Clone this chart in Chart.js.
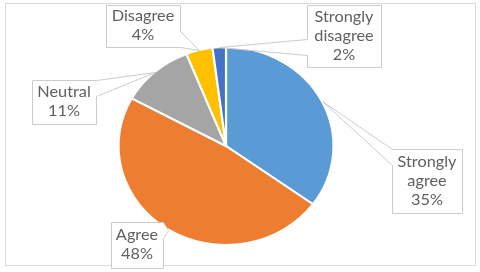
<!DOCTYPE html>
<html>
<head>
<meta charset="utf-8">
<script src="https://cdn.jsdelivr.net/npm/chart.js@4"></script>
<style>
  html, body { margin: 0; padding: 0; background: #fff; }
  #wrap { width: 480px; height: 272px; }
</style>
</head>
<body>
<div id="wrap"><canvas id="myChart" width="480" height="272"></canvas></div>
<script>
const categories = ['Strongly agree', 'Agree', 'Neutral', 'Disagree', 'Strongly disagree'];
const percents = [35, 48, 11, 4, 2];
const sliceColors = ['#5B9BD5', '#ED7D31', '#A5A5A5', '#FFC000', '#4472C4'];

// callout boxes [left, top, width, height], same order as categories
const calloutBoxes = [
    [392, 149, 70, 64],
    [111, 222, 52, 46],
    [32, 80, 64, 44],
    [106, 5, 74, 42],
    [307, 5, 74, 62]
];

const stretchX = 1.086; // the picture is a bit wider than tall, pie and text alike
const textColor = '#606060';
const lineH = 19;

const ellipsePie = {
    id: 'ellipsePie',
    beforeDraw(chart) {
        const ctx = chart.ctx;
        ctx.save();
        ctx.fillStyle = '#fff';
        ctx.fillRect(0, 0, chart.width, chart.height);
        ctx.strokeStyle = '#D9D9D9';
        ctx.lineWidth = 1;
        ctx.strokeRect(5.5, 3.5, 470, 262);
        ctx.restore();
    },
    beforeDatasetsDraw(chart) {
        const arc = chart.getDatasetMeta(0).data[0];
        const ctx = chart.ctx;
        ctx.save();
        ctx.translate(arc.x, arc.y);
        ctx.scale(stretchX, 1);
        ctx.translate(-arc.x, -arc.y);
    },
    afterDatasetsDraw(chart) {
        chart.ctx.restore();
    }
};

const callouts = {
    id: 'callouts',
    afterDraw(chart) {
        const ctx = chart.ctx;
        const arcs = chart.getDatasetMeta(0).data;
        ctx.save();
        ctx.font = '15px Lato';
        ctx.textAlign = 'center';
        ctx.textBaseline = 'middle';
        arcs.forEach((arc, i) => {
            const p = arc.getProps(['x', 'y', 'startAngle', 'endAngle', 'outerRadius'], true);
            const mid = (p.startAngle + p.endAngle) / 2;
            const tip = {
                x: p.x + stretchX * p.outerRadius * Math.cos(mid),
                y: p.y + p.outerRadius * Math.sin(mid)
            };
            const [l, t, w, h] = calloutBoxes[i];
            const r = l + w, b = t + h;
            const hw = 8;
            const clamp = (v, a, z) => Math.max(a, Math.min(z, v));
            let pts;
            if (tip.x > r) {
                const c = clamp(tip.y, t + hw, b - hw);
                pts = [[l, t], [r, t], [r, c - hw], [tip.x, tip.y], [r, c + hw], [r, b], [l, b]];
            } else if (tip.x < l) {
                const c = clamp(tip.y, t + hw, b - hw);
                pts = [[l, t], [r, t], [r, b], [l, b], [l, c + hw], [tip.x, tip.y], [l, c - hw]];
            } else if (tip.y < t) {
                const c = clamp(tip.x, l + hw, r - hw);
                pts = [[l, t], [c - hw, t], [tip.x, tip.y], [c + hw, t], [r, t], [r, b], [l, b]];
            } else {
                const c = clamp(tip.x, l + hw, r - hw);
                pts = [[l, t], [r, t], [r, b], [c + hw, b], [tip.x, tip.y], [c - hw, b], [l, b]];
            }
            ctx.beginPath();
            pts.forEach(([x, y], k) => {
                const px = Math.round(x) + 0.5, py = Math.round(y) + 0.5;
                if (k === 0) ctx.moveTo(px, py); else ctx.lineTo(px, py);
            });
            ctx.closePath();
            ctx.fillStyle = '#fff';
            ctx.fill();
            ctx.strokeStyle = '#CCCCCC';
            ctx.lineWidth = 1;
            ctx.stroke();

            const name = categories[i];
            const sp = name.indexOf(' ');
            const lines = sp > 0 ? [name.slice(0, sp), name.slice(sp + 1)] : [name];
            lines.push(percents[i] + '%');
            const y0 = t + h / 2 - (lines.length - 1) * lineH / 2;
            ctx.fillStyle = textColor;
            lines.forEach((s, k) => {
                ctx.save();
                ctx.translate(l + w / 2, y0 + k * lineH);
                ctx.scale(stretchX, 1);
                ctx.fillText(s, 0, 0);
                ctx.restore();
            });
        });
        ctx.restore();
    }
};

const ctx = document.getElementById('myChart').getContext('2d');
new Chart(ctx, {
    type: 'pie',
    data: {
        labels: categories,
        datasets: [{
            data: percents,
            backgroundColor: sliceColors,
            borderColor: '#fff',
            borderWidth: 2,
            hoverOffset: 0
        }]
    },
    options: {
        responsive: false,
        animation: false,
        radius: 99,
        events: [],
        plugins: {
            legend: { display: false },
            tooltip: { enabled: false }
        },
        layout: {
            padding: { left: 120, right: 148, top: 46, bottom: 26 }
        }
    },
    plugins: [ellipsePie, callouts]
});
</script>
</body>
</html>
